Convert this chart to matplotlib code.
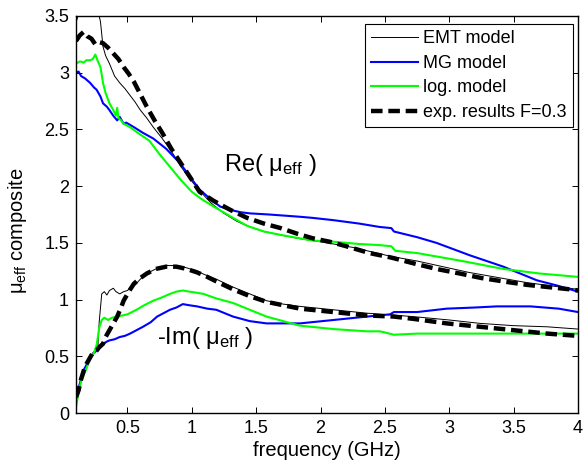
import matplotlib
matplotlib.use("Agg")
import matplotlib.pyplot as plt
from matplotlib.ticker import FuncFormatter

plt.rcParams['font.family'] = ['Liberation Sans', 'DejaVu Sans']
plt.rcParams['mathtext.fontset'] = 'custom'
plt.rcParams['mathtext.rm'] = 'Liberation Sans'
plt.rcParams['mathtext.it'] = 'Liberation Sans:italic'
plt.rcParams['mathtext.default'] = 'rm'

# ---------------- data ----------------
# Real part
f_re_exp = [0.10, 0.13, 0.16, 0.19, 0.22, 0.25, 0.28, 0.31, 0.35, 0.39, 0.43, 0.47, 0.51, 0.55, 0.60, 0.65,
            0.71, 0.77, 0.84, 0.91, 0.98, 1.06, 1.17, 1.30, 1.43, 1.56, 1.69, 1.82, 1.94, 2.07, 2.20, 2.38,
            2.55, 2.72, 2.90, 3.08, 3.25, 3.42, 3.60, 3.77, 3.94, 4.00]
re_exp = [3.28, 3.33, 3.36, 3.32, 3.30, 3.25, 3.27, 3.26, 3.22, 3.17, 3.12, 3.05, 2.99, 2.92, 2.81, 2.70,
          2.58, 2.47, 2.33, 2.21, 2.09, 1.95, 1.87, 1.79, 1.72, 1.67, 1.63, 1.58, 1.54, 1.51, 1.47, 1.41,
          1.37, 1.32, 1.27, 1.23, 1.19, 1.16, 1.13, 1.11, 1.09, 1.08]

f_re_emt = [0.10, 0.12, 0.15, 0.18, 0.21, 0.24, 0.27, 0.29, 0.31, 0.33, 0.36, 0.40, 0.44, 0.48, 0.52, 0.56,
            0.60, 0.65, 0.70, 0.77, 0.84, 0.91, 0.98, 1.06, 1.15, 1.25, 1.35, 1.45, 1.56, 1.69, 1.82, 1.94,
            2.10, 2.25, 2.40, 2.55, 2.75, 2.95, 3.15, 3.40, 3.60, 3.80, 4.00]
re_emt = [3.44, 3.52, 3.60, 3.65, 3.62, 3.58, 3.55, 3.45, 3.23, 3.15, 3.08, 2.97, 2.91, 2.86, 2.80, 2.74,
          2.67, 2.60, 2.52, 2.42, 2.31, 2.18, 2.07, 1.96, 1.85, 1.76, 1.69, 1.64, 1.60, 1.57, 1.54, 1.52,
          1.49, 1.46, 1.42, 1.38, 1.34, 1.29, 1.24, 1.19, 1.15, 1.12, 1.09]

f_re_mg = [0.10, 0.12, 0.14, 0.17, 0.21, 0.24, 0.26, 0.29, 0.31, 0.34, 0.36, 0.39, 0.42, 0.44, 0.47, 0.49,
           0.55, 0.62, 0.70, 0.80, 0.91, 1.00, 1.06, 1.14, 1.22, 1.30, 1.38, 1.45, 1.60, 1.84, 1.94, 2.10,
           2.30, 2.46, 2.55, 2.57, 2.75, 2.90, 3.16, 3.42, 3.68, 3.85, 4.00]
re_mg = [3.00, 3.01, 2.97, 2.95, 2.91, 2.87, 2.85, 2.79, 2.73, 2.70, 2.67, 2.62, 2.58, 2.61, 2.55, 2.56,
         2.52, 2.47, 2.42, 2.33, 2.20, 2.06, 1.97, 1.89, 1.82, 1.79, 1.77, 1.76, 1.75, 1.73, 1.72, 1.70,
         1.67, 1.64, 1.63, 1.60, 1.55, 1.50, 1.39, 1.29, 1.17, 1.12, 1.07]

f_re_log = [0.10, 0.13, 0.16, 0.18, 0.21, 0.23, 0.25, 0.27, 0.29, 0.31, 0.33, 0.36, 0.39, 0.41, 0.42, 0.43,
            0.45, 0.47, 0.52, 0.58, 0.67, 0.75, 0.83, 0.91, 1.00, 1.07, 1.14, 1.23, 1.32, 1.43, 1.56, 1.69,
            1.84, 1.94, 2.10, 2.30, 2.46, 2.55, 2.58, 2.75, 2.90, 3.10, 3.42, 3.70, 4.00]
re_log = [3.08, 3.10, 3.09, 3.11, 3.11, 3.12, 3.16, 3.10, 3.05, 2.91, 2.82, 2.73, 2.67, 2.62, 2.69, 2.60,
          2.58, 2.55, 2.52, 2.47, 2.40, 2.28, 2.17, 2.06, 1.95, 1.89, 1.84, 1.78, 1.72, 1.65, 1.60, 1.57,
          1.54, 1.52, 1.51, 1.49, 1.48, 1.47, 1.43, 1.41, 1.38, 1.34, 1.27, 1.23, 1.20]

# Imaginary part (-Im)
f_im_exp = [0.10, 0.12, 0.14, 0.17, 0.19, 0.21, 0.23, 0.26, 0.28, 0.31, 0.33, 0.36, 0.39, 0.42, 0.45, 0.47,
            0.51, 0.55, 0.60, 0.65, 0.72, 0.80, 0.88, 0.96, 1.04, 1.12, 1.19, 1.32, 1.45, 1.58, 1.71, 1.84,
            2.10, 2.36, 2.57, 2.72, 2.98, 3.24, 3.50, 3.76, 4.00]
im_exp = [0.14, 0.20, 0.30, 0.41, 0.45, 0.49, 0.53, 0.55, 0.58, 0.61, 0.67, 0.73, 0.79, 0.85, 0.93, 0.99,
          1.07, 1.14, 1.19, 1.23, 1.27, 1.29, 1.29, 1.27, 1.24, 1.20, 1.16, 1.09, 1.03, 0.98, 0.95, 0.92,
          0.89, 0.86, 0.85, 0.83, 0.79, 0.76, 0.73, 0.70, 0.68]

f_im_emt = [0.10, 0.12, 0.14, 0.17, 0.19, 0.21, 0.23, 0.26, 0.27, 0.28, 0.30, 0.32, 0.34, 0.36, 0.39, 0.41,
            0.44, 0.47, 0.50, 0.53, 0.56, 0.60, 0.65, 0.72, 0.80, 0.88, 0.96, 1.04, 1.12, 1.19, 1.32, 1.45,
            1.58, 1.71, 1.84, 2.10, 2.36, 2.72, 3.00, 3.24, 3.50, 3.76, 4.00]
im_emt = [0.12, 0.19, 0.28, 0.40, 0.45, 0.49, 0.53, 0.56, 0.58, 0.80, 1.05, 1.07, 1.04, 1.08, 1.10, 1.07,
          1.05, 1.07, 1.08, 1.11, 1.13, 1.18, 1.23, 1.27, 1.30, 1.30, 1.28, 1.25, 1.21, 1.18, 1.11, 1.05,
          0.99, 0.96, 0.94, 0.91, 0.88, 0.85, 0.82, 0.79, 0.77, 0.76, 0.74]

f_im_mg = [0.10, 0.12, 0.14, 0.16, 0.19, 0.21, 0.24, 0.26, 0.29, 0.31, 0.34, 0.36, 0.40, 0.44, 0.48, 0.52,
           0.57, 0.62, 0.68, 0.73, 0.78, 0.83, 0.88, 0.93, 0.98, 1.04, 1.12, 1.19, 1.32, 1.45, 1.58, 1.66,
           1.84, 2.10, 2.36, 2.54, 2.57, 2.75, 2.98, 3.20, 3.37, 3.63, 3.85, 4.00]
im_mg = [0.14, 0.22, 0.30, 0.38, 0.44, 0.49, 0.53, 0.55, 0.58, 0.61, 0.63, 0.64, 0.65, 0.67, 0.68, 0.70,
         0.73, 0.76, 0.80, 0.85, 0.88, 0.91, 0.93, 0.96, 0.95, 0.94, 0.92, 0.91, 0.85, 0.81, 0.79, 0.79,
         0.79, 0.82, 0.85, 0.87, 0.89, 0.89, 0.92, 0.93, 0.94, 0.94, 0.92, 0.89]

f_im_log = [0.10, 0.12, 0.14, 0.17, 0.20, 0.22, 0.24, 0.26, 0.27, 0.28, 0.30, 0.32, 0.35, 0.38, 0.42, 0.46,
            0.50, 0.57, 0.63, 0.70, 0.77, 0.83, 0.88, 0.93, 0.98, 1.04, 1.09, 1.19, 1.32, 1.45, 1.58, 1.71,
            1.84, 2.10, 2.36, 2.46, 2.50, 2.57, 2.75, 3.00, 3.50, 4.00]
im_log = [0.05, 0.18, 0.28, 0.36, 0.45, 0.50, 0.53, 0.60, 0.67, 0.75, 0.82, 0.84, 0.82, 0.84, 0.85, 0.86,
          0.87, 0.91, 0.95, 0.99, 1.02, 1.05, 1.07, 1.08, 1.07, 1.06, 1.05, 1.01, 0.97, 0.91, 0.85, 0.81,
          0.77, 0.74, 0.72, 0.72, 0.71, 0.69, 0.70, 0.70, 0.70, 0.70]

labels = ["EMT model", "MG model", "log. model", "exp. results F=0.3"]
x_ticks = [0.5, 1, 1.5, 2, 2.5, 3, 3.5, 4]
y_ticks = [0, 0.5, 1, 1.5, 2, 2.5, 3, 3.5]

# ---------------- figure ----------------
fig = plt.figure(figsize=(5.84, 4.65), dpi=100)
ax = fig.add_axes([76 / 584, 1 - 413 / 465, (578 - 76) / 584, (413 - 16) / 465])

emt_kw = dict(color='black', lw=0.7)
mg_kw = dict(color='#0000ff', lw=1.5)
log_kw = dict(color='#00ff00', lw=1.5)
exp_kw = dict(color='black', lw=3.2, dashes=(2.6, 1.3))

ax.plot(f_re_emt, re_emt, label=labels[0], **emt_kw)
ax.plot(f_im_emt, im_emt, **emt_kw)
ax.plot(f_re_mg, re_mg, label=labels[1], **mg_kw)
ax.plot(f_im_mg, im_mg, **mg_kw)
ax.plot(f_re_log, re_log, label=labels[2], **log_kw)
ax.plot(f_im_log, im_log, **log_kw)
ax.plot(f_re_exp, re_exp, label=labels[3], **exp_kw)
ax.plot(f_im_exp, im_exp, **exp_kw)

ax.set_xlim(0.1, 4)
ax.set_ylim(0, 3.5)
ax.set_xticks(x_ticks)
ax.set_yticks(y_ticks)
fmt = FuncFormatter(lambda v, p: ('%g' % v))
ax.xaxis.set_major_formatter(fmt)
ax.yaxis.set_major_formatter(fmt)
ax.tick_params(direction='in', length=4, width=0.7, top=True, right=True,
               labelsize=13, pad=5)
for s in ax.spines.values():
    s.set_linewidth(1.0)

ax.set_xlabel('frequency (GHz)', fontsize=14.5, labelpad=3)
ax.set_ylabel('μ$_{\\rm eff}$ composite', fontsize=14.5)
ax.yaxis.set_label_coords(-0.094, 0.46)

ax.text(0.1 + (270 - 76) / 128.7, 2.19, 'Re( μ$_{\\rm eff}$ )', fontsize=17,
        ha='center', va='center')
ax.text(0.1 + (205 - 76) / 128.7, 0.66, '-Im( μ$_{\\rm eff}$ )', fontsize=17,
        ha='center', va='center')

leg = ax.legend(loc='upper right', bbox_to_anchor=((573 - 76) / 502, (413 - 24) / 397),
                fontsize=13, frameon=True, fancybox=False,
                edgecolor='black', framealpha=1, handlelength=2.6, handletextpad=0.3,
                labelspacing=0.42, borderpad=0.35, borderaxespad=0.0)
leg.get_frame().set_linewidth(0.8)

fig.savefig('out.png', dpi=100)
